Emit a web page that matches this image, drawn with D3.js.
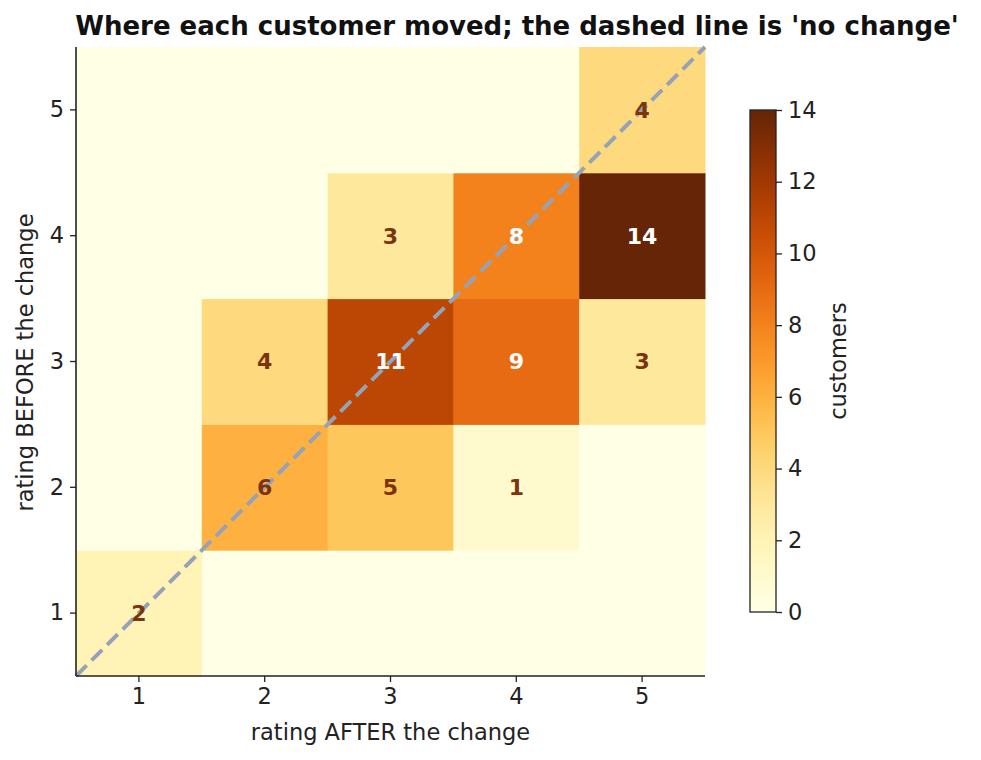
<!DOCTYPE html>
<html>
<head>
<meta charset="utf-8">
<script src="https://cdn.jsdelivr.net/npm/d3@7"></script>
<style>
  body { margin: 0; background: #fff; }
  text { font-family: "DejaVu Sans", sans-serif; }
</style>
</head>
<body>
<div id="chart"></div>
<script>
// ratings 1..5, rows = rating before, columns = rating after
const ratings = [1, 2, 3, 4, 5]
const before1 = [2, 0, 0, 0, 0]
const before2 = [0, 6, 5, 1, 0]
const before3 = [0, 4, 11, 9, 3]
const before4 = [0, 0, 3, 8, 14]
const before5 = [0, 0, 0, 0, 4]
const rows = [before1, before2, before3, before4, before5]
const cbTicks = [0, 2, 4, 6, 8, 10, 12, 14]

const W = 981, H = 760
const margin = {top: 47, left: 76}
const size = 629
const fs = 22.5

const svg = d3.select("#chart").append("svg").attr("width", W).attr("height", H)

const x = d3.scaleBand().domain(ratings).range([margin.left, margin.left + size])
const y = d3.scaleBand().domain(ratings).range([margin.top + size, margin.top])
const color = d3.scaleSequential(d3.interpolateYlOrBr).domain([0, 14])

let cells = []
rows.forEach((r, i) => r.forEach((v, j) => cells.push({before: ratings[i], after: ratings[j], v: v})))

svg.append("g").selectAll("rect").data(cells).enter().append("rect")
  .attr("x", d => x(d.after))
  .attr("y", d => y(d.before))
  .attr("width", x.bandwidth() + 0.5)
  .attr("height", y.bandwidth() + 0.5)
  .attr("fill", d => color(d.v))

// diagonal 'no change' line, in data space 0.5 -> 5.5
const lin = d3.scaleLinear().domain([0.5, 5.5])
const lx = lin.copy().range([margin.left, margin.left + size])
const ly = lin.copy().range([margin.top + size, margin.top])
svg.append("line")
  .attr("x1", lx(0.5)).attr("y1", ly(0.5))
  .attr("x2", lx(5.5)).attr("y2", ly(5.5))
  .attr("stroke", "#94a3b8").attr("stroke-width", 4)
  .attr("stroke-dasharray", "15,7")

svg.append("g").selectAll("text").data(cells.filter(d => d.v > 0)).enter().append("text")
  .attr("x", d => x(d.after) + x.bandwidth() / 2)
  .attr("y", d => y(d.before) + y.bandwidth() / 2)
  .attr("dy", "0.36em")
  .attr("text-anchor", "middle")
  .attr("font-size", 22).attr("font-weight", "bold")
  .attr("fill", d => d.v >= 8 ? "#fff" : "#7a3510")
  .text(d => d.v)

const xAxis = svg.append("g").attr("transform", `translate(0,${margin.top + size})`)
  .call(d3.axisBottom(x).tickSize(6).tickPadding(6))
const yAxis = svg.append("g").attr("transform", `translate(${margin.left},0)`)
  .call(d3.axisLeft(y).tickSize(6).tickPadding(6))
;[xAxis, yAxis].forEach(a => {
  a.selectAll("text").attr("font-size", fs).attr("fill", "#222").style("font-family", "DejaVu Sans")
  a.selectAll("line").attr("stroke", "#222").attr("stroke-width", 1.3)
  a.select(".domain").attr("stroke", "#222").attr("stroke-width", 1.6)
})
// make the spines run the full length with no end ticks
xAxis.select(".domain").attr("d", `M${margin.left},0H${margin.left + size}`)
yAxis.select(".domain").attr("d", `M0,${margin.top}V${margin.top + size}`)

svg.append("text").attr("x", margin.left + size / 2).attr("y", 740)
  .attr("text-anchor", "middle").attr("font-size", fs).attr("fill", "#222")
  .text("rating AFTER the change")
svg.append("text").attr("transform", `translate(33,${margin.top + size / 2 + 1}) rotate(-90)`)
  .attr("text-anchor", "middle").attr("font-size", fs).attr("fill", "#222")
  .text("rating BEFORE the change")

svg.append("text").attr("x", 517).attr("y", 35)
  .attr("text-anchor", "middle").attr("font-size", 26).attr("font-weight", "bold").attr("fill", "#111")
  .text("Where each customer moved; the dashed line is 'no change'")

// colorbar
const cb = {x: 750, y: 110, w: 26, h: 502}
const defs = svg.append("defs")
const grad = defs.append("linearGradient").attr("id", "cbgrad")
  .attr("x1", 0).attr("y1", 1).attr("x2", 0).attr("y2", 0)
d3.range(0, 1.0001, 0.05).forEach(t => {
  grad.append("stop").attr("offset", t).attr("stop-color", color(t * 14))
})
svg.append("rect").attr("x", cb.x).attr("y", cb.y).attr("width", cb.w).attr("height", cb.h)
  .attr("fill", "url(#cbgrad)").attr("stroke", "#222").attr("stroke-width", 1.3)
const cbScale = d3.scaleLinear().domain([0, 14]).range([cb.y + cb.h, cb.y])
const cbAxis = svg.append("g").attr("transform", `translate(${cb.x + cb.w},0)`)
  .call(d3.axisRight(cbScale).tickValues(cbTicks).tickSize(6).tickPadding(6))
cbAxis.select(".domain").remove()
cbAxis.selectAll("text").attr("font-size", fs).attr("fill", "#222").style("font-family", "DejaVu Sans")
cbAxis.selectAll("line").attr("stroke", "#222").attr("stroke-width", 1.3)
svg.append("text").attr("transform", `translate(846,${cb.y + cb.h / 2}) rotate(-90)`)
  .attr("text-anchor", "middle").attr("font-size", fs).attr("fill", "#222")
  .text("customers")
</script>
</body>
</html>
